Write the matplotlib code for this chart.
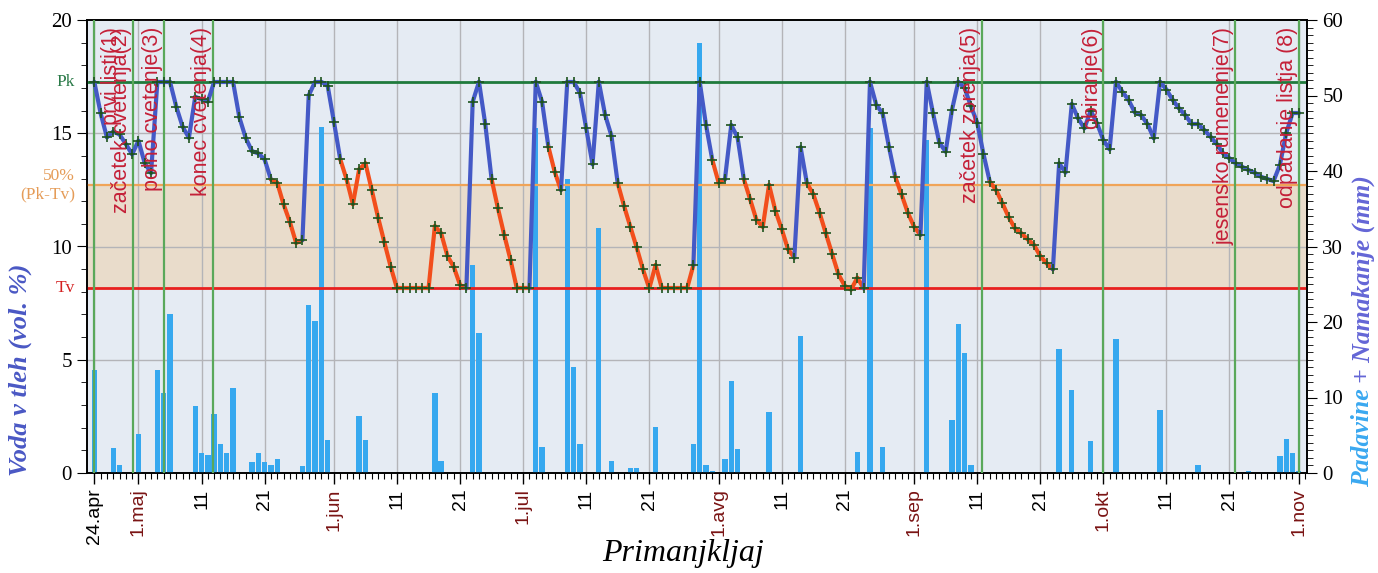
import numpy as np
import matplotlib.pyplot as plt
from matplotlib.collections import LineCollection
from matplotlib import transforms

# day 0 = 24. april
soil = [17.27, 15.88, 14.82, 15.07, 14.95, 14.52, 14.07, 14.67, 13.67, 13.25,
        17.27, 17.27, 17.27, 16.17, 15.29, 14.80, 16.61, 16.50, 16.40, 17.27,
        17.27, 17.27, 17.27, 15.70, 14.80, 14.21, 14.11, 13.85, 12.96, 12.82,
        11.87, 11.09, 10.16, 10.28, 16.67, 17.27, 17.27, 17.10, 15.50, 13.85,
        12.97, 11.87, 13.41, 13.67, 12.49, 11.28, 10.18, 9.10, 8.15, 8.15,
        8.15, 8.15, 8.15, 8.15, 10.90, 10.58, 9.58, 9.10, 8.30, 8.15,
        16.39, 17.27, 15.39, 12.97, 11.69, 10.51, 9.41, 8.15, 8.15, 8.15,
        17.27, 16.39, 14.41, 13.30, 12.49, 17.27, 17.27, 16.79, 15.22, 13.63,
        17.27, 15.81, 14.89, 12.79, 11.79, 10.87, 9.96, 8.99, 8.15, 9.18,
        8.15, 8.15, 8.15, 8.15, 8.15, 9.18, 17.27, 15.36, 13.82, 12.82,
        12.97, 15.36, 14.82, 12.97, 12.08, 11.17, 10.87, 12.72, 11.58, 10.77,
        9.88, 9.51, 14.38, 12.79, 12.32, 11.49, 10.58, 9.67, 8.77, 8.26,
        8.10, 8.62, 8.15, 17.27, 16.25, 15.88, 14.41, 13.08, 12.30, 11.49,
        10.87, 10.51, 17.27, 15.88, 14.58, 14.19, 16.03, 17.27, 17.00, 16.20,
        15.47, 14.08, 12.86, 12.49, 11.91, 11.29, 10.80, 10.58, 10.32, 10.07,
        9.58, 9.26, 8.99, 13.67, 13.27, 16.29, 15.66, 15.22, 16.00, 15.44,
        14.70, 14.29, 17.27, 16.84, 16.47, 15.92, 15.80, 15.41, 14.78, 17.27,
        16.93, 16.47, 16.10, 15.80, 15.41, 15.41, 15.14, 14.85, 14.52, 14.11,
        13.89, 13.67, 13.52, 13.38, 13.26, 13.08, 12.98, 12.89, 13.60, 15.00,
        15.88, 15.88]

# periods drawn in red (from day, to day)
stress_periods = [(28, 33), (39, 59), (63, 69), (72, 74), (83, 95), (98, 100),
                  (103, 111), (113, 122), (127, 131), (142, 152)]

rain_days = [0, 3, 4, 7, 10, 11, 12, 16, 17, 18, 19, 20, 21, 22, 25, 26, 27, 28, 29,
             33, 34, 35, 36, 37, 42, 43, 54, 55, 60, 61, 70, 71, 75, 76, 77, 80, 82,
             85, 86, 89, 95, 96, 97, 98, 100, 101, 102, 107, 112, 121, 123, 125, 132,
             136, 137, 138, 139, 153, 155, 158, 162, 169, 175, 183, 188, 189, 190, 191]
rain_mm = [13.6, 3.3, 1.1, 5.1, 13.6, 10.6, 21.0, 8.9, 2.7, 2.4, 7.8, 3.8, 2.6, 11.3,
           1.4, 2.7, 1.4, 1.1, 1.8, 0.9, 22.3, 20.1, 45.8, 4.4, 7.6, 4.4, 10.6, 1.6,
           27.5, 18.5, 45.7, 3.5, 39.0, 14.0, 3.8, 32.4, 1.6, 0.6, 0.6, 6.1, 3.8, 57.0,
           1.1, 0.3, 1.9, 12.2, 3.2, 8.1, 18.1, 2.8, 45.7, 3.5, 44.1, 7.0, 19.7, 15.9,
           1.1, 16.4, 11.0, 4.2, 17.8, 8.4, 1.1, 0.3, 2.3, 4.5, 2.7, 0.3]

pk = 17.27
tv = 8.15

pheno_days = [0, 6.1, 11.0, 18.8, 140.8, 160, 180.9, 191.1]
pheno_labels = ["prvi listi(1)", "začetek cvetenja(2)", "polno cvetenje(3)",
                "konec cvetenja(4)", "začetek zorenja(5)", "obiranje(6)",
                "jesensko rumenenje(7)", "odpadanje listja (8)"]

tick_days = [0, 7, 17, 27, 38, 48, 58, 68, 78, 88, 99, 109, 119, 130, 140, 150,
             160, 170, 180, 191]
tick_labels = ["24.apr", "1.maj", "11", "21", "1.jun", "11", "21", "1.jul", "11", "21",
               "1.avg", "11", "21", "1.sep", "11", "21", "1.okt", "11", "21", "1.nov"]

serif = "Liberation Serif"
sans = "Liberation Sans"
blue = "#4459c6"
red = "#f24e1c"

fig = plt.figure(figsize=(13.78, 5.73), dpi=100)
ax = fig.add_axes([87 / 1378, 1 - 473 / 573, 1220 / 1378, 453 / 573])
ax2 = ax.twinx()
ax.set_zorder(ax2.get_zorder() + 1)
ax.patch.set_visible(False)
ax2.patch.set_visible(True)
ax2.patch.set_facecolor("#e5ebf3")

ax.set_xlim(-1.16, 192.3)
ax.set_ylim(0, 20)
ax2.set_ylim(0, 60)
k = 60 / 20

# background: band + grid, then bars
ax2.axhspan(tv * k, (pk + tv) / 2 * k, color="#e9dccb", zorder=0)
for d in tick_days:
    ax2.axvline(d, color="#b4b4b8", lw=1, zorder=1)
for v in [5, 10, 15]:
    ax2.axhline(v * k, color="#b4b4b8", lw=1, zorder=1)
ax2.bar(rain_days, rain_mm, width=0.85, color="#36a8ef", zorder=3)

# reference lines
ax.axhline(pk, color="#1f7a3c", lw=2, zorder=2)
ax.axhline((pk + tv) / 2, color="#f0a458", lw=1.6, zorder=2)
ax.axhline(tv, color="#e8201e", lw=2, zorder=2)
for d in pheno_days:
    ax.axvline(d, color="#5aa85a", lw=1.6, zorder=3)

# soil water line
days = np.arange(len(soil))
pts = np.column_stack([days, soil])
segs = np.stack([pts[:-1], pts[1:]], axis=1)
dry = np.zeros(len(segs), bool)
for a, b in stress_periods:
    dry[a:b] = True
lc = LineCollection(segs, colors=np.where(dry, red, blue), linewidths=3,
                    capstyle="round", joinstyle="round", zorder=5)
ax.add_collection(lc)
ax.plot(days, soil, "+", color="#1d531d", ms=7, mew=1.2, zorder=6)

# phenology labels
trans = transforms.blended_transform_factory(ax.transData, ax.transAxes)
for i, (d, lab) in enumerate(zip(pheno_days, pheno_labels)):
    dx = 17 if i == 0 else -11.5
    t = transforms.offset_copy(trans, fig=fig, x=dx, y=0, units="dots")
    ax.text(d, 0.985, lab, transform=t, rotation=90, ha="center", va="top",
            color="#c42038", fontsize=15.5, family=sans, zorder=8)

# axes ticks
ax.set_xticks(tick_days)
ax.set_xticklabels(tick_labels, rotation=90, fontsize=14, family=sans)
ax.set_xticks(np.arange(0, 193), minor=True)
for lbl in ax.get_xticklabels():
    if lbl.get_text().startswith("1."):
        lbl.set_color("#7a1414")
ax.tick_params(axis="x", which="major", length=8, width=1, pad=3)
ax.tick_params(axis="x", which="minor", length=4, width=0.8)

ax.set_yticks([0, 5, 10, 15, 20])
ax.set_yticks(np.arange(0, 21), minor=True)
ax.tick_params(axis="y", which="major", length=7, labelsize=15, pad=4)
ax.tick_params(axis="y", which="minor", length=4)
for lbl in ax.get_yticklabels():
    lbl.set_family(serif)

ax2.set_yticks(range(0, 61, 10))
ax2.set_yticks(np.arange(0, 61), minor=True)
ax2.tick_params(axis="y", which="major", length=7, labelsize=15, pad=4)
ax2.tick_params(axis="y", which="minor", length=4)
for lbl in ax2.get_yticklabels():
    lbl.set_family(serif)

for a in (ax, ax2):
    for s in a.spines.values():
        s.set_color("black")
        s.set_linewidth(1.2)

# labels of reference lines on the left
ytr = transforms.blended_transform_factory(ax.transAxes, ax.transData)
ax.text(-0.0098, pk, "Pk", transform=ytr, ha="right", va="center",
        color="#2a7a48", fontsize=12.5, family=serif)
ax.text(-0.0098, (pk + tv) / 2, "50%\n(Pk-Tv)", transform=ytr, ha="right",
        va="center", multialignment="right", color="#e59c58", fontsize=12.5,
        family=serif, linespacing=1.15)
ax.text(-0.0098, tv, "Tv", transform=ytr, ha="right", va="center",
        color="#d42020", fontsize=12.5, family=serif)

# axis titles
fig.text(20 / 1378, 1 - 370 / 573, "Voda v tleh (vol. %)", rotation=90,
         ha="center", va="center", color="#4a58c4", fontsize=19,
         family=serif, weight="bold", style="italic")
fig.text(683 / 1378, 1 - 553 / 573, "Primanjkljaj", ha="center", va="center",
         fontsize=23, family=serif, style="italic")

fig.canvas.draw()
r = fig.canvas.get_renderer()
t1 = fig.text(1363 / 1378, 1 - 487 / 573, "Padavine", rotation=90, ha="center",
              va="bottom", color="#3aa8f0", fontsize=18.5, family=serif,
              weight="bold", style="italic")
bb = t1.get_window_extent(r)
fig.text(1363 / 1378, (bb.y1 + 5) / fig.bbox.height, "+ Namakanje (mm)",
         rotation=90, ha="center", va="bottom", color="#6466d6", fontsize=18.5,
         family=serif, weight="bold", style="italic")

fig.savefig("out.png", dpi=100, facecolor="white")
